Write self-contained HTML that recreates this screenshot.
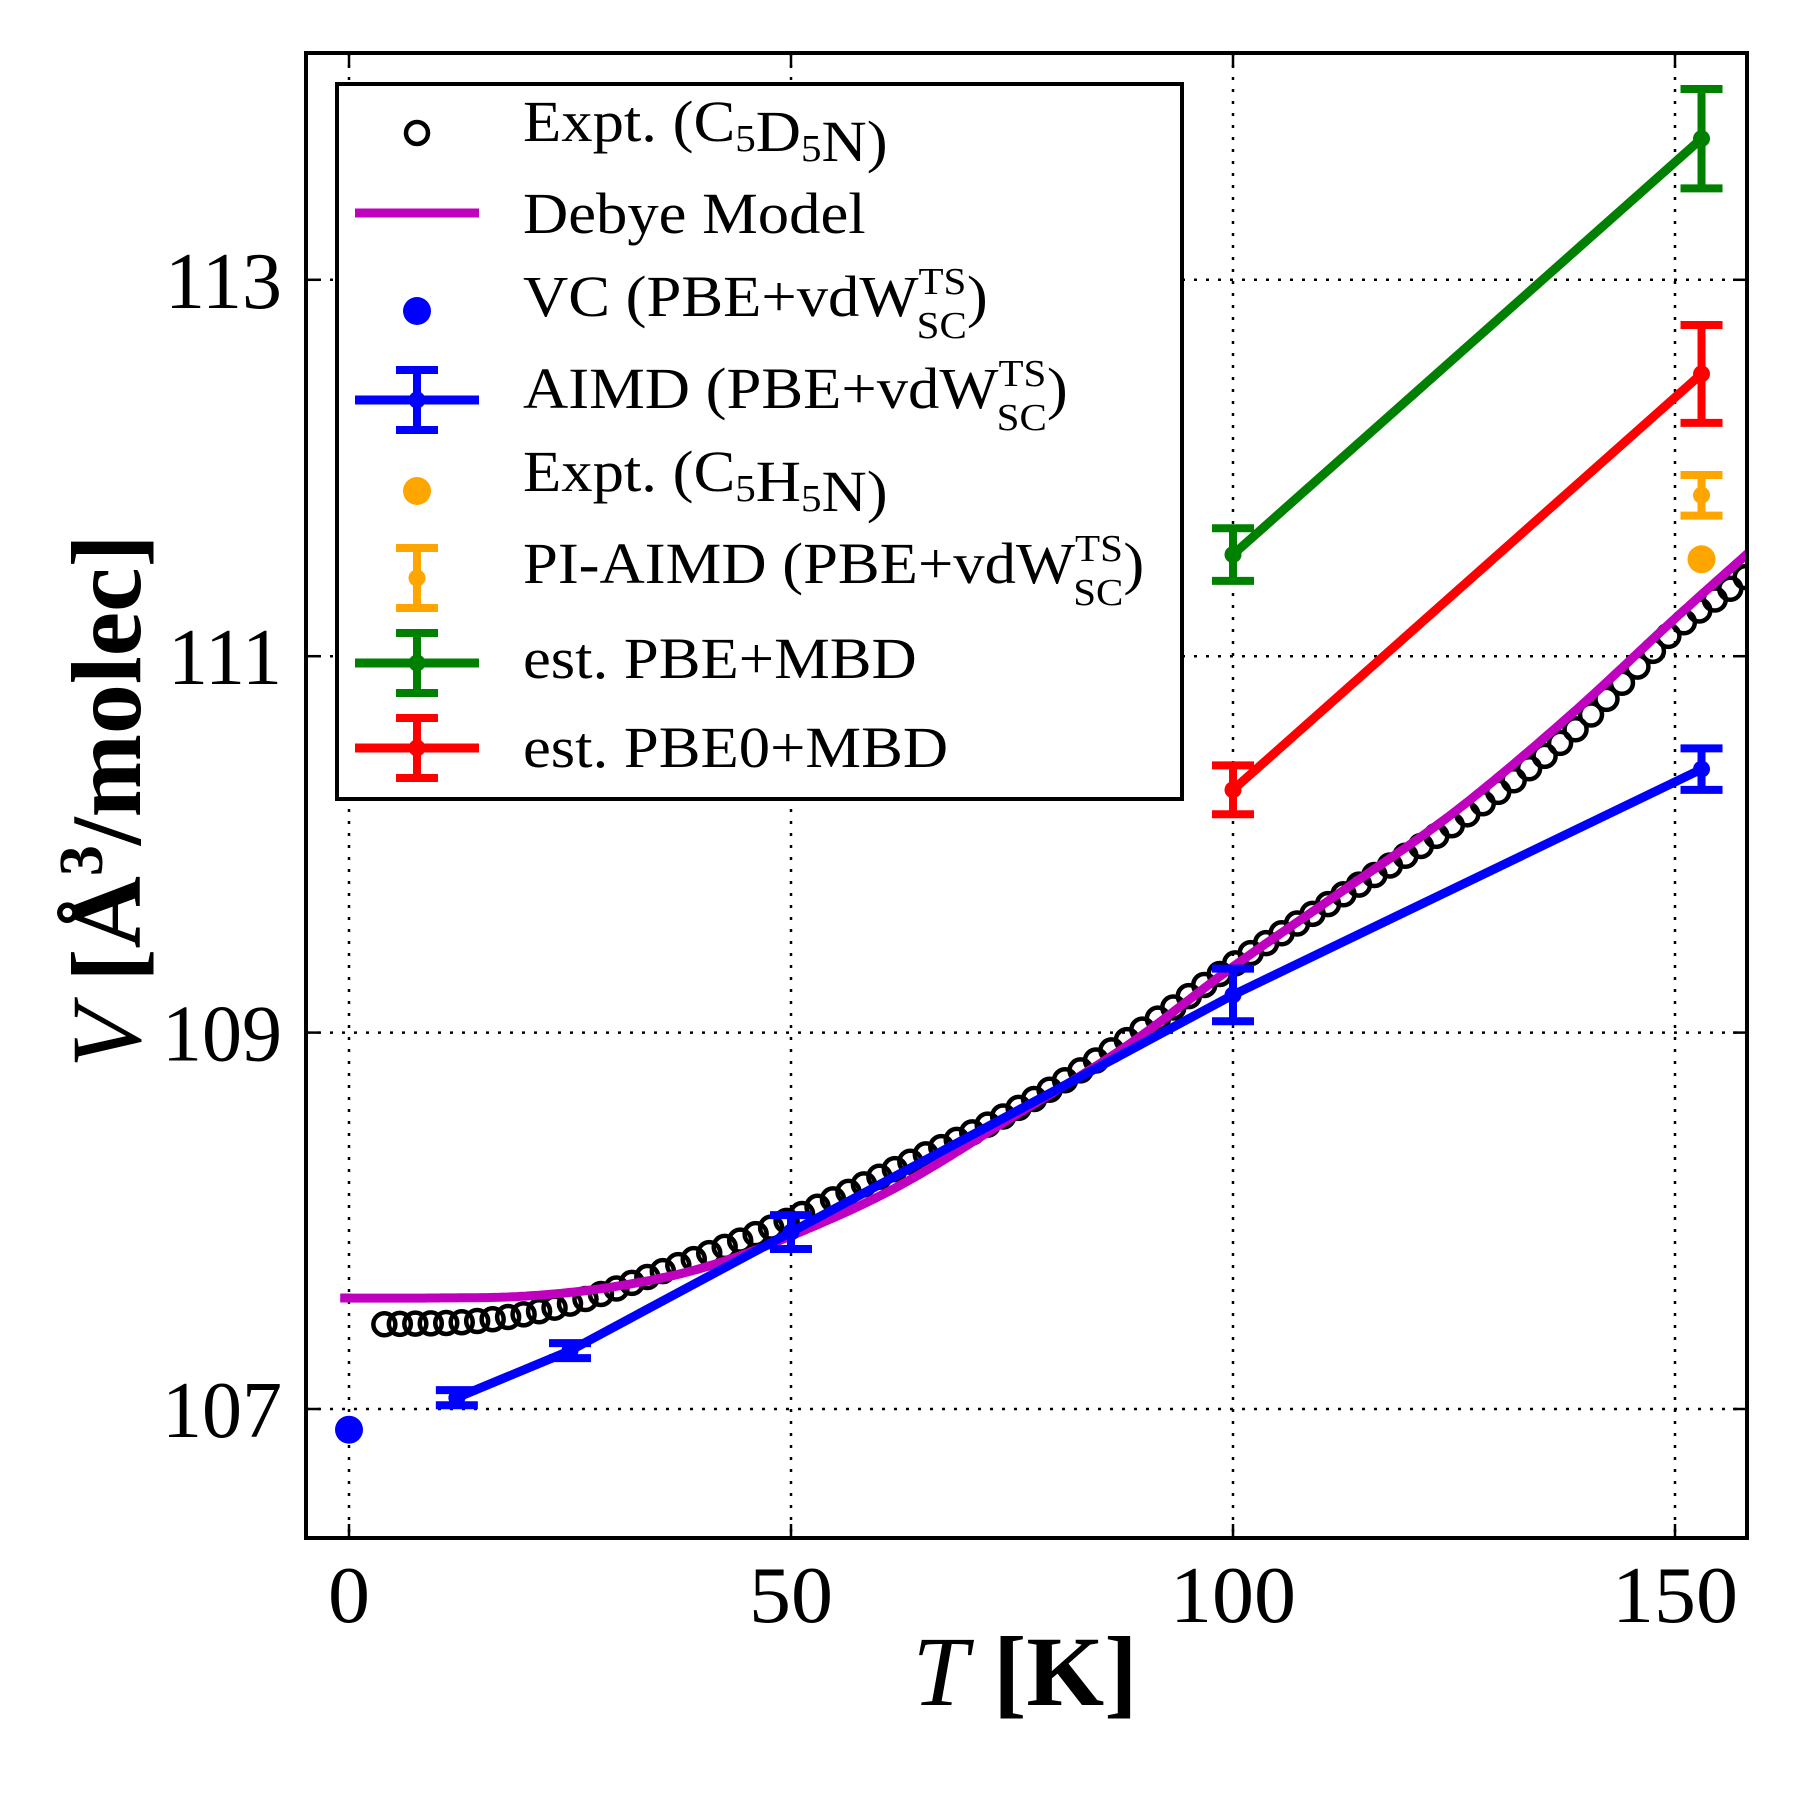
<!DOCTYPE html>
<html><head><meta charset="utf-8"><style>
html,body{margin:0;padding:0;background:#fff;}
svg{display:block;}
text{font-family:"Liberation Serif",serif;}
</style></head><body>
<svg id="s" width="1800" height="1800" viewBox="0 0 1800 1800" xmlns="http://www.w3.org/2000/svg"></svg>
<script>
const s=document.getElementById('s');
const X=T=>349+8.84*T, Y=V=>1409-188.2*(V-107);
let h='';
const L=306,R=1747,Tp=53,B=1538;
for(const t of [0,50,100,150]){h+=`<line x1="${X(t)}" y1="${Tp}" x2="${X(t)}" y2="${B}" stroke="#000" stroke-width="2.5" stroke-dasharray="3,9"/>`;
 h+=`<line x1="${X(t)}" y1="${B}" x2="${X(t)}" y2="${B-14}" stroke="#000" stroke-width="2.5"/><line x1="${X(t)}" y1="${Tp}" x2="${X(t)}" y2="${Tp+14}" stroke="#000" stroke-width="2.5"/>`;
 h+=`<text x="${X(t)}" y="1622" font-size="80" text-anchor="middle" transform="translate(${X(t)},0) scale(1.05,1) translate(${-X(t)},0)">${t}</text>`;}
for(const v of [107,109,111,113]){h+=`<line x1="${L}" y1="${Y(v)}" x2="${R}" y2="${Y(v)}" stroke="#000" stroke-width="2.5" stroke-dasharray="3,9"/>`;
 h+=`<line x1="${L}" y1="${Y(v)}" x2="${L+14}" y2="${Y(v)}" stroke="#000" stroke-width="2.5"/><line x1="${R}" y1="${Y(v)}" x2="${R-14}" y2="${Y(v)}" stroke="#000" stroke-width="2.5"/>`;
 h+=`<text x="282" y="${Y(v)+28}" font-size="80" text-anchor="end">${v}</text>`;}
h+=`<defs><clipPath id="c"><rect x="${L}" y="${Tp}" width="${R-L}" height="${B-Tp}"/></clipPath></defs><g clip-path="url(#c)">`;
function spline(p,t){let i=0;while(i<p.length-2&&t>p[i+1][0])i++;
 const p0=p[Math.max(i-1,0)],p1=p[i],p2=p[i+1],p3=p[Math.min(i+2,p.length-1)];
 const u=(t-p1[0])/(p2[0]-p1[0]);
 const m1=(p2[1]-p0[1])/(p2[0]-p0[0])*(p2[0]-p1[0]), m2=(p3[1]-p1[1])/(p3[0]-p1[0])*(p2[0]-p1[0]);
 const u2=u*u,u3=u2*u;return (2*u3-3*u2+1)*p1[1]+(u3-2*u2+u)*m1+(-2*u3+3*u2)*p2[1]+(u3-u2)*m2;}
const ep=[[4,107.45],[15,107.47],[25,107.56],[37,107.76],[50,108.01],[62,108.28],[75,108.58],[88,108.96],[100,109.36],[112,109.72],[125,110.11],[138,110.58],[150,111.14],[158,111.42],[165,111.7]];
for(let t=4;t<=160;t+=1.75){h+=`<circle cx="${X(t)}" cy="${Y(spline(ep,t))}" r="11" fill="none" stroke="#000" stroke-width="4.5"/>`;}
const dp=[[-5,107.59],[10,107.59],[20,107.6],[30,107.65],[40,107.75],[50,107.92],[62,108.18],[75,108.55],[88,108.93],[100,109.35],[112,109.74],[125,110.17],[138,110.68],[150,111.2],[160,111.62]];
let d='';for(let t=-1;t<=160;t+=0.5){d+=(d?'L':'M')+X(t).toFixed(1)+','+Y(spline(dp,t)).toFixed(1);}
h+=`<path d="${d}" fill="none" stroke="#bf00bf" stroke-width="9"/>`;
function eb(pts,col,line){if(line){h+=`<polyline points="${pts.map(p=>X(p[0])+','+Y(p[1])).join(' ')}" fill="none" stroke="${col}" stroke-width="9"/>`;}
 for(const [t,v,e] of pts){const x=X(t);h+=`<line x1="${x}" y1="${Y(v-e)}" x2="${x}" y2="${Y(v+e)}" stroke="${col}" stroke-width="8"/><line x1="${x-21}" y1="${Y(v-e)}" x2="${x+21}" y2="${Y(v-e)}" stroke="${col}" stroke-width="8"/><line x1="${x-21}" y1="${Y(v+e)}" x2="${x+21}" y2="${Y(v+e)}" stroke="${col}" stroke-width="8"/><circle cx="${x}" cy="${Y(v)}" r="8.5" fill="${col}"/>`;}}
eb([[12.2,107.06,0.04],[25,107.31,0.04],[50,107.94,0.09],[100,109.2,0.14],[153,110.4,0.11]],'#0000ff',true);
eb([[100,111.54,0.14],[153,113.75,0.264]],'#008000',true);
eb([[100,110.29,0.13],[153,112.5,0.26]],'#ff0000',true);
eb([[153,111.855,0.108]],'#ffa500',false);
h+=`<circle cx="${X(153)}" cy="${Y(111.515)}" r="14" fill="#ffa500"/>`;
h+=`<circle cx="${X(0)}" cy="${Y(106.89)}" r="14" fill="#0000ff"/>`;
h+=`</g>`;
h+=`<rect x="${L}" y="${Tp}" width="${R-L}" height="${B-Tp}" fill="none" stroke="#000" stroke-width="4"/>`;
h+=`<rect x="337" y="84" width="845" height="715" fill="#fff" stroke="#000" stroke-width="4"/>`;
const rows=[121,213,296,388,471,563,658,747], mx=417, tx=523, fs=58;
h+=`<circle cx="${mx}" cy="${rows[0]+12}" r="11" fill="none" stroke="#000" stroke-width="4.5"/>`;
h+=`<line x1="355" y1="${rows[1]}" x2="479" y2="${rows[1]}" stroke="#bf00bf" stroke-width="9"/>`;
h+=`<circle cx="${mx}" cy="${rows[2]+15}" r="14" fill="#0000ff"/>`;
h+=`<circle cx="${mx}" cy="${rows[4]+20}" r="14" fill="#ffa500"/>`;
function lg(y,col,hl){if(hl)h+=`<line x1="355" y1="${y}" x2="479" y2="${y}" stroke="${col}" stroke-width="9"/>`;
 h+=`<line x1="${mx}" y1="${y-30}" x2="${mx}" y2="${y+30}" stroke="${col}" stroke-width="8"/><line x1="${mx-21}" y1="${y-30}" x2="${mx+21}" y2="${y-30}" stroke="${col}" stroke-width="8"/><line x1="${mx-21}" y1="${y+30}" x2="${mx+21}" y2="${y+30}" stroke="${col}" stroke-width="8"/><circle cx="${mx}" cy="${y}" r="8.5" fill="${col}"/>`;}
lg(rows[3]+12,'#0000ff',true);lg(rows[5]+15,'#ffa500',false);lg(rows[6]+5,'#008000',true);lg(rows[7]+1,'#ff0000',true);
const sub=t=>`<tspan font-size="38" dy="10">${t}</tspan><tspan dy="-10"></tspan>`;
const ts=`<tspan font-size="38" dy="-22">TS</tspan><tspan font-size="38" dx="-46" dy="44">SC</tspan><tspan dy="-22">)</tspan>`;
const T=(i,c)=>{h+=`<text x="${tx}" y="${rows[i]+20}" font-size="${fs}" transform="translate(${tx},0) scale(1.08,1) translate(${-tx},0)">${c}</text>`;};
T(0,`Expt. (C${sub(5)}D${sub(5)}N)`);
T(1,`Debye Model`);
T(2,`VC (PBE+vdW${ts}`);
T(3,`AIMD (PBE+vdW${ts}`);
T(4,`Expt. (C${sub(5)}H${sub(5)}N)`);
T(5,`PI-AIMD (PBE+vdW${ts}`);
T(6,`est. PBE+MBD`);
T(7,`est. PBE0+MBD`);
h+=`<text x="1025" y="1705" font-size="100" text-anchor="middle"><tspan font-style="italic">T</tspan> <tspan font-weight="bold">[K]</tspan></text>`;
h+=`<text transform="translate(140,801) rotate(-90)" font-size="100" text-anchor="middle"><tspan font-style="italic">V</tspan> <tspan font-weight="bold">[Å<tspan font-size="62" dy="-38">3</tspan><tspan dy="38">/molec]</tspan></tspan></text>`;
s.innerHTML=h;
</script>
</body></html>
